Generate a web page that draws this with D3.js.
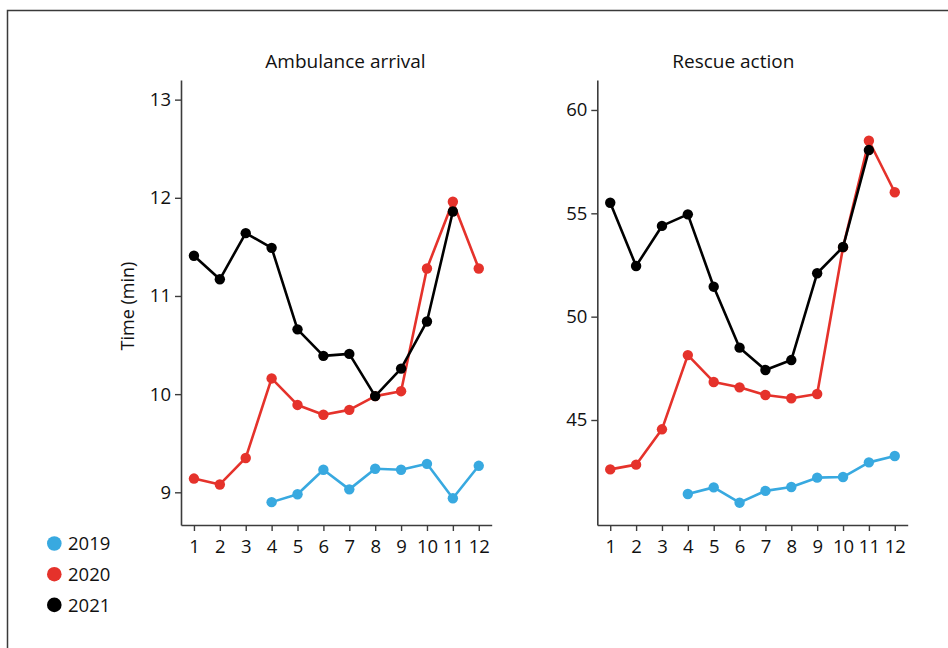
<!DOCTYPE html>
<html>
<head>
<meta charset="utf-8">
<script src="https://cdn.jsdelivr.net/npm/d3@7"></script>
<style>
  html, body { margin: 0; padding: 0; background: #fff; }
  svg { display: block; }
  text { font-family: "Open Sans", "Noto Sans", sans-serif; fill: #111; }
</style>
</head>
<body>
<svg id="chart" width="948" height="648"></svg>
<script>
// Months on the x axis
const months = [1, 2, 3, 4, 5, 6, 7, 8, 9, 10, 11, 12];
const years = ["2019", "2020", "2021"];
const yearColors = ["#38a9e0", "#e5322b", "#000000"];

// Ambulance arrival time (min), per month
const ambulance2019 = [null, null, null, 8.90, 8.98, 9.23, 9.03, 9.24, 9.23, 9.29, 8.94, 9.27];
const ambulance2020 = [9.14, 9.08, 9.35, 10.16, 9.89, 9.79, 9.84, 9.98, 10.03, 11.28, 11.96, 11.28];
const ambulance2021 = [11.41, 11.17, 11.64, 11.49, 10.66, 10.39, 10.41, 9.98, 10.26, 10.74, 11.86, null];

// Rescue action time (min), per month
const rescue2019 = [null, null, null, 41.42, 41.74, 41.00, 41.57, 41.76, 42.21, 42.24, 42.95, 43.26];
const rescue2020 = [42.61, 42.84, 44.55, 48.14, 46.84, 46.58, 46.21, 46.05, 46.26, 53.35, 58.51, 56.02];
const rescue2021 = [55.51, 52.45, 54.39, 54.95, 51.45, 48.50, 47.42, 47.90, 52.10, 53.37, 58.06, null];

const ambulanceTicks = [9, 10, 11, 12, 13];
const rescueTicks = [45, 50, 55, 60];

const svg = d3.select("#chart");

// Outer frame
svg.append("rect")
  .attr("x", 7.5).attr("y", 10.5)
  .attr("width", 1000).attr("height", 700)
  .attr("fill", "none")
  .attr("stroke", "#3a3a3a")
  .attr("stroke-width", 1.5);

const panels = [
  {
    title: "Ambulance arrival",
    titleX: 345.5,
    xRange: [181, 491.7],
    yDomain: [8.667, 13.2],
    ticks: ambulanceTicks,
    series: [ambulance2019, ambulance2020, ambulance2021]
  },
  {
    title: "Rescue action",
    titleX: 733.3,
    xRange: [597.3, 907.7],
    yDomain: [39.92, 61.45],
    ticks: rescueTicks,
    series: [rescue2019, rescue2020, rescue2021]
  }
];

const yRange = [525, 80];

panels.forEach(p => {
  const x = d3.scaleLinear().domain([0.5, 12.5]).range(p.xRange);
  const y = d3.scaleLinear().domain(p.yDomain).range(yRange);
  const g = svg.append("g");

  // Title
  g.append("text")
    .attr("x", p.titleX).attr("y", 67.5)
    .attr("text-anchor", "middle")
    .style("font-size", "19px")
    .text(p.title);

  // Axes
  const xAxis = g.append("g")
    .attr("transform", `translate(0,${yRange[0]})`)
    .call(d3.axisBottom(x).tickValues(months).tickFormat(d3.format("d"))
      .tickSize(6).tickSizeOuter(0).tickPadding(9));
  const yAxis = g.append("g")
    .attr("transform", `translate(${p.xRange[0]},0)`)
    .call(d3.axisLeft(y).tickValues(p.ticks).tickFormat(d3.format("d"))
      .tickSize(6).tickSizeOuter(0).tickPadding(4));

  [xAxis, yAxis].forEach(ax => {
    ax.select(".domain").attr("stroke", "#3c3c3c").attr("stroke-width", 1.6);
    ax.selectAll(".tick line").attr("stroke", "#3c3c3c").attr("stroke-width", 1.4);
    ax.selectAll(".tick text")
      .attr("fill", "#111")
      .style("font-family", "\"Open Sans\", \"Noto Sans\", sans-serif")
      .style("font-size", "18.5px");
  });

  // Lines and markers, 2019 first so 2021 sits on top
  const line = d3.line()
    .defined(d => d.v !== null)
    .x(d => x(d.m))
    .y(d => y(d.v));

  p.series.forEach((vals, i) => {
    const pts = months.map((m, j) => ({ m: m, v: vals[j] }));
    const sg = g.append("g");
    sg.append("path")
      .datum(pts)
      .attr("d", line)
      .attr("fill", "none")
      .attr("stroke", yearColors[i])
      .attr("stroke-width", 2.6)
      .attr("stroke-linejoin", "round");
    sg.selectAll("circle")
      .data(pts.filter(d => d.v !== null))
      .join("circle")
      .attr("cx", d => x(d.m))
      .attr("cy", d => y(d.v))
      .attr("r", 5.2)
      .attr("fill", yearColors[i]);
  });
});

// Y axis label
svg.append("text")
  .attr("transform", "translate(134,306) rotate(-90)")
  .attr("text-anchor", "middle")
  .style("font-size", "18px")
  .text("Time (min)");

// Legend
const legend = svg.append("g");
years.forEach((yr, i) => {
  const cy = 543.5 + i * 30.7;
  legend.append("circle")
    .attr("cx", 54.3).attr("cy", cy).attr("r", 7.3)
    .attr("fill", yearColors[i]);
  legend.append("text")
    .attr("x", 68).attr("y", cy)
    .attr("dy", "0.36em")
    .style("font-size", "18.5px")
    .text(yr);
});
</script>
</body>
</html>
